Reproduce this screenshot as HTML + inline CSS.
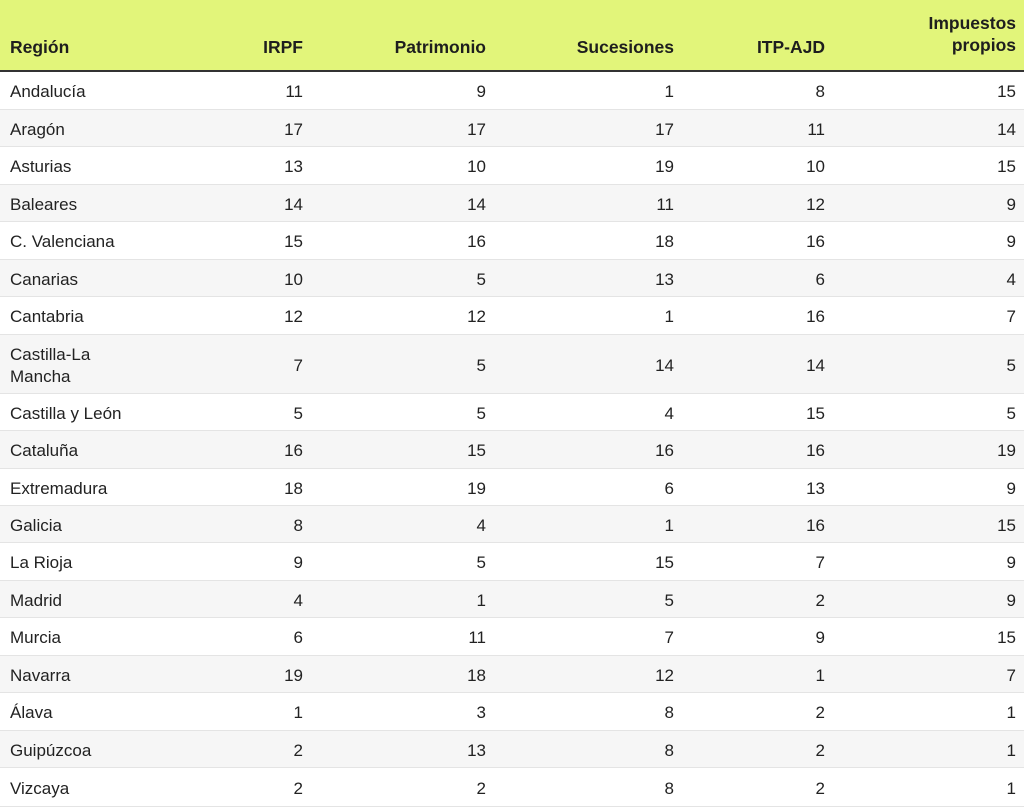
<!DOCTYPE html>
<html><head><meta charset="utf-8"><style>
body{margin:0;width:1024px;height:807px;overflow:hidden;background:#fff;font-family:"Liberation Sans",Arial,sans-serif;color:#222;}
.hdr{position:absolute;left:0;top:0;width:1024px;height:70px;background:#e2f57a;border-bottom:2px solid #333;}
.r{position:absolute;left:0;width:1024px;border-bottom:1px solid #e4e4e4;box-sizing:border-box;}
.r.o{background:#f6f6f6;}
.c{position:absolute;font-size:17px;line-height:22px;}
.h{position:absolute;font-weight:bold;font-size:17.5px;line-height:22px;color:#1e1e1e;}
</style></head><body>
<div class="hdr"></div>
<div class="h" style="left:10px;top:36px">Región</div>
<div class="h" style="right:721px;top:36px">IRPF</div>
<div class="h" style="right:538px;top:36px">Patrimonio</div>
<div class="h" style="right:350px;top:36px">Sucesiones</div>
<div class="h" style="right:199px;top:36px">ITP-AJD</div>
<div class="h" style="right:8px;top:12px;text-align:right">Impuestos<br>propios</div>
<div id="t"></div>
<script>
var d=[["Andalucía",11,9,1,8,15],["Aragón",17,17,17,11,14],["Asturias",13,10,19,10,15],["Baleares",14,14,11,12,9],["C. Valenciana",15,16,18,16,9],["Canarias",10,5,13,6,4],["Cantabria",12,12,1,16,7],["Castilla-La<br>Mancha",7,5,14,14,5],["Castilla y León",5,5,4,15,5],["Cataluña",16,15,16,16,19],["Extremadura",18,19,6,13,9],["Galicia",8,4,1,16,15],["La Rioja",9,5,15,7,9],["Madrid",4,1,5,2,9],["Murcia",6,11,7,9,15],["Navarra",19,18,12,1,7],["Álava",1,3,8,2,1],["Guipúzcoa",2,13,8,2,1],["Vizcaya",2,2,8,2,1]];
var b=[72,110,147,185,222,260,297,335,394,431,469,506,543,581,618,656,693,731,768,807];
var rt=[721,538,350,199,8],h="";
for(var i=0;i<d.length;i++){var y=b[i],hh=b[i+1]-y,cy=y+hh/2+2;
h+='<div class="r'+(i%2?' o':'')+'" style="top:'+y+'px;height:'+hh+'px"></div>';
var two=i==7;
h+='<div class="c" style="left:10px;top:'+(cy-(two?22:11)-1)+'px">'+d[i][0]+'</div>';
for(var j=0;j<5;j++)h+='<div class="c" style="right:'+rt[j]+'px;top:'+(cy-12)+'px">'+d[i][j+1]+'</div>';}
document.getElementById('t').innerHTML=h;
</script>
</body></html>
